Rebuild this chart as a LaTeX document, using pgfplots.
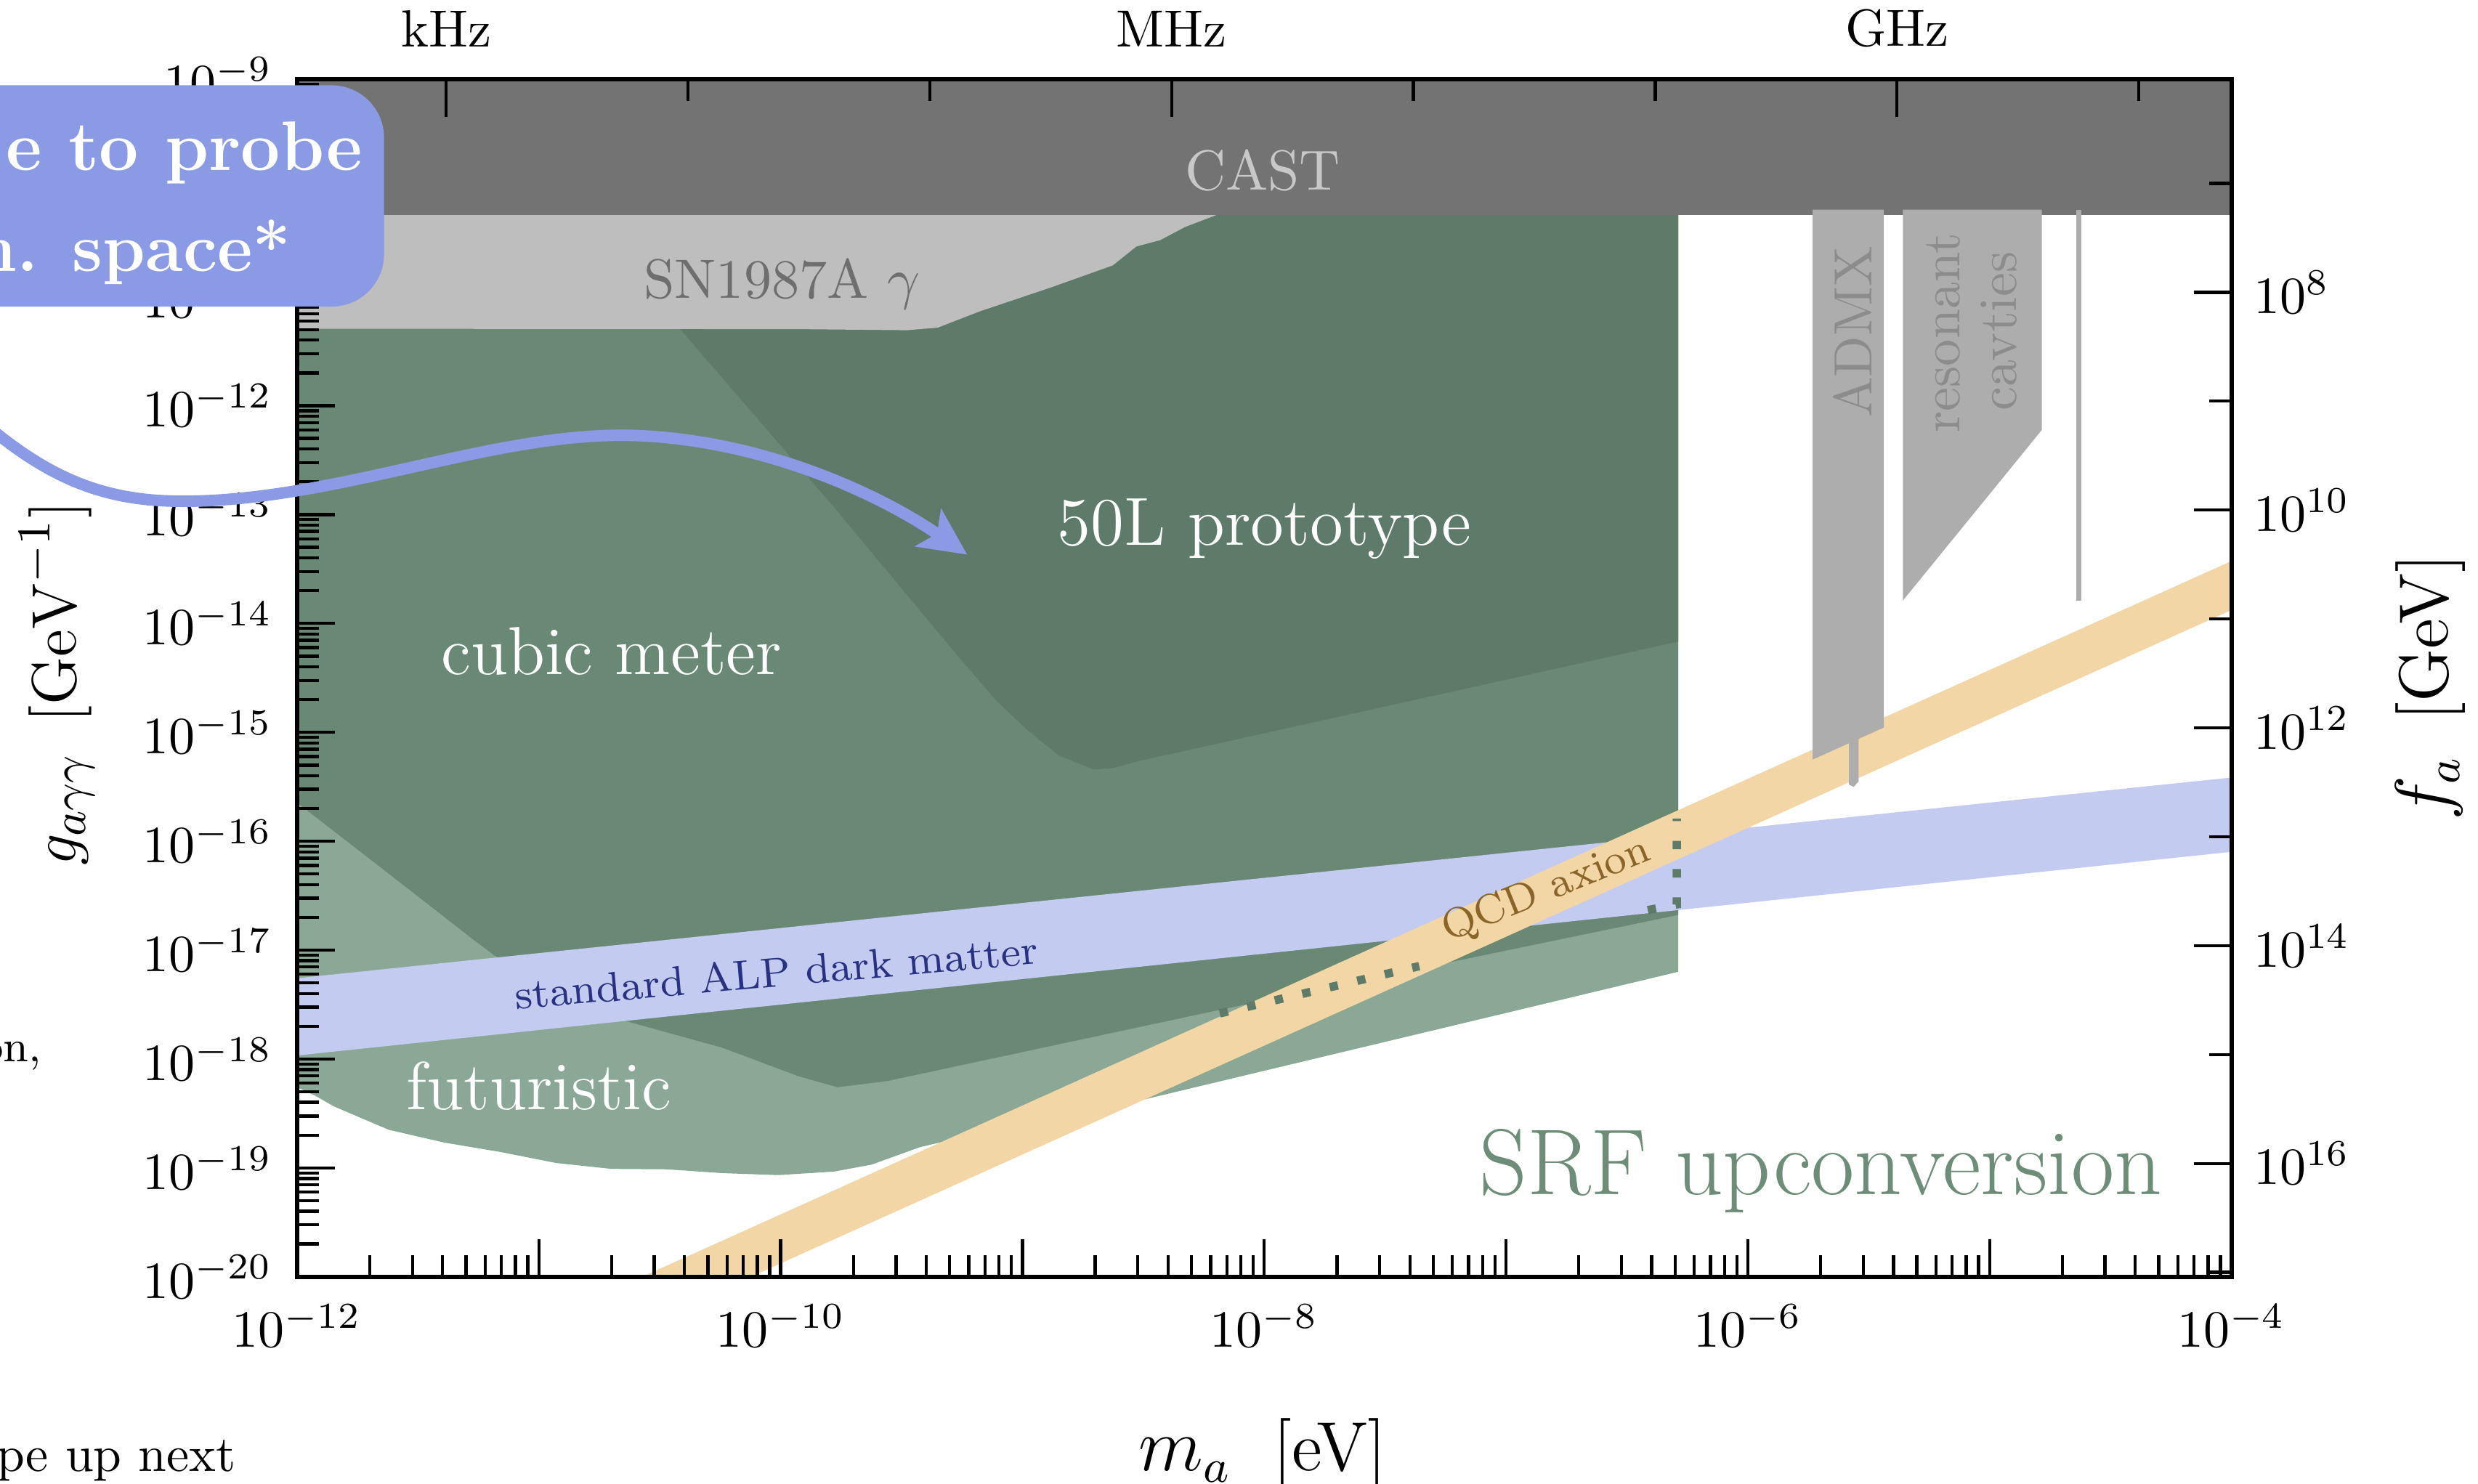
\documentclass[border=0pt]{standalone}
\usepackage{pgfplots}
\pgfplotsset{compat=1.18}
\usetikzlibrary{arrows.meta}
\definecolor{castc}{RGB}{115,115,115}
\definecolor{snc}{RGB}{190,190,190}
\definecolor{sntext}{RGB}{110,110,110}
\definecolor{casttext}{RGB}{200,200,200}
\definecolor{haloc}{RGB}{173,173,173}
\definecolor{admxtext}{RGB}{140,140,140}
\definecolor{fiftyL}{RGB}{94,123,105}
\definecolor{cubic}{RGB}{106,137,117}
\definecolor{futur}{RGB}{138,168,149}
\definecolor{alpband}{RGB}{196,203,240}
\definecolor{alptext}{RGB}{40,50,130}
\definecolor{qcdband}{RGB}{242,214,166}
\definecolor{qcdtext}{RGB}{138,100,40}
\definecolor{arrowblue}{RGB}{138,154,229}
\definecolor{srftext}{RGB}{109,141,120}
\newcommand\axW{369.82pt}
\newcommand\axH{229.02pt}
\begin{document}
\begin{tikzpicture}
% ---------------- data (log10 space) ----------------
\begin{axis}[name=data, at={(0,0)}, anchor=south west, scale only axis,
  width=\axW, height=\axH, xmin=-12, xmax=-4, ymin=-20, ymax=-9, hide axis]
% futuristic
\addplot[draw=none, fill=futur] coordinates {
 (-12.2,-10.2) (-12.2,-18.22) (-12,-18.259) (-11.922,-18.34) (-11.850,-18.433)
 (-11.621,-18.650) (-11.392,-18.767) (-11.159,-18.854) (-10.929,-18.955)
 (-10.700,-19.009) (-10.471,-19.013) (-10.242,-19.048) (-10.010,-19.066)
 (-9.780,-19.034) (-9.624,-18.970) (-9.425,-18.810) (-8.980,-18.578)
 (-8.503,-18.375) (-6.288,-17.199) (-6.288,-10.2)} -- cycle;
% cubic meter
\addplot[draw=none, fill=cubic] coordinates {
 (-12.2,-10.2) (-12.2,-15.30) (-12,-15.646) (-11.595,-16.343) (-11.268,-16.909)
 (-11.163,-17.083) (-10.974,-17.344) (-10.778,-17.533) (-10.630,-17.658)
 (-10.242,-17.896) (-9.928,-18.157) (-9.765,-18.259) (-9.556,-18.201)
 (-8.183,-17.548) (-6.288,-16.677) (-6.288,-10.2)} -- cycle;
% 50L prototype
\addplot[draw=none, fill=fiftyL] coordinates {
 (-10.843,-10.2) (-10.412,-11.307) (-9.775,-12.944) (-9.307,-14.195)
 (-9.111,-14.703) (-8.980,-14.979) (-8.850,-15.211) (-8.706,-15.342)
 (-8.621,-15.327) (-8.529,-15.269) (-6.288,-14.166) (-6.288,-10.2)} -- cycle;
% SN1987A
\addplot[draw=none, fill=snc] coordinates {
 (-12.2,-10.2) (-12.2,-11.293) (-9.924,-11.297) (-9.477,-11.307) (-9.350,-11.283)
 (-9.176,-11.133) (-8.877,-10.910) (-8.627,-10.712) (-8.529,-10.538)
 (-8.431,-10.480) (-8.329,-10.360) (-8.205,-10.255) (-8.16,-10.2)} -- cycle;
% CAST
\addplot[draw=none, fill=castc] coordinates {
 (-12.2,-10.248) (-3.8,-10.248) (-3.8,-8.8) (-12.2,-8.8)} -- cycle;
% standard ALP dark matter band
\addplot[draw=none, fill=alpband] coordinates {
 (-12.1,-17.281) (-3.9,-15.392) (-3.9,-16.074) (-12.1,-17.991)} -- cycle;
% QCD axion band
\addplot[draw=none, fill=qcdband] coordinates {
 (-12,-21.427) (-3.9,-13.327) (-3.9,-13.777) (-12,-21.877)} -- cycle;
% ADMX
\addplot[draw=none, fill=haloc] coordinates {
 (-5.732,-10.2) (-5.732,-15.250) (-5.582,-15.100) (-5.582,-15.48) (-5.562,-15.501)
 (-5.542,-15.45) (-5.542,-15.060) (-5.438,-14.956) (-5.438,-10.2)} -- cycle;
% resonant cavities
\addplot[draw=none, fill=haloc] coordinates {
 (-5.359,-10.2) (-4.784,-10.2) (-4.784,-12.222) (-5.359,-13.790)} -- cycle;
\addplot[haloc, line width=1pt] coordinates {(-4.631,-10.2) (-4.631,-13.79)};
% dotted line
\addplot[fiftyL, line width=1.6pt, dash pattern=on 1.6pt off 3.8pt] coordinates {
 (-8.184,-17.581) (-7.359,-17.147)};
\addplot[fiftyL, line width=1.6pt, dash pattern=on 1.6pt off 3.8pt] coordinates {
 (-6.414,-16.633) (-6.294,-16.580) (-6.294,-15.792)};
\end{axis}
% ---------------- main log axes (bottom / left) ----------------
\begin{axis}[name=ax, at={(0,0)}, anchor=south west, scale only axis,
  width=\axW, height=\axH, xmode=log, ymode=log,
  xmin=1e-12, xmax=1e-4, ymin=1e-20, ymax=1e-9,
  tick pos=left,
  xtick={1e-12,1e-11,1e-10,1e-9,1e-8,1e-7,1e-6,1e-5,1e-4},
  xticklabels={$10^{-12}$,,$10^{-10}$,,$10^{-8}$,,$10^{-6}$,,$10^{-4}$},
  ytick={1e-20,1e-19,1e-18,1e-17,1e-16,1e-15,1e-14,1e-13,1e-12,1e-11,1e-10,1e-9},
  minor xtick={2e-12,3e-12,4e-12,5e-12,6e-12,7e-12,8e-12,9e-12,
   2e-11,3e-11,4e-11,5e-11,6e-11,7e-11,8e-11,9e-11,
   2e-10,3e-10,4e-10,5e-10,6e-10,7e-10,8e-10,9e-10,
   2e-9,3e-9,4e-9,5e-9,6e-9,7e-9,8e-9,9e-9,
   2e-8,3e-8,4e-8,5e-8,6e-8,7e-8,8e-8,9e-8,
   2e-7,3e-7,4e-7,5e-7,6e-7,7e-7,8e-7,9e-7,
   2e-6,3e-6,4e-6,5e-6,6e-6,7e-6,8e-6,9e-6,
   2e-5,3e-5,4e-5,5e-5,6e-5,7e-5,8e-5,9e-5},
  minor ytick={2e-20,3e-20,4e-20,5e-20,6e-20,7e-20,8e-20,9e-20,
   2e-19,3e-19,4e-19,5e-19,6e-19,7e-19,8e-19,9e-19,
   2e-18,3e-18,4e-18,5e-18,6e-18,7e-18,8e-18,9e-18,
   2e-17,3e-17,4e-17,5e-17,6e-17,7e-17,8e-17,9e-17,
   2e-16,3e-16,4e-16,5e-16,6e-16,7e-16,8e-16,9e-16,
   2e-15,3e-15,4e-15,5e-15,6e-15,7e-15,8e-15,9e-15,
   2e-14,3e-14,4e-14,5e-14,6e-14,7e-14,8e-14,9e-14,
   2e-13,3e-13,4e-13,5e-13,6e-13,7e-13,8e-13,9e-13,
   2e-12,3e-12,4e-12,5e-12,6e-12,7e-12,8e-12,9e-12,
   2e-11,3e-11,4e-11,5e-11,6e-11,7e-11,8e-11,9e-11,
   2e-10,3e-10,4e-10,5e-10,6e-10,7e-10,8e-10,9e-10},
  major tick length=7.2pt, minor tick length=4.2pt,
  tick style={black, line width=0.6pt},
  axis line style={line width=0.8pt},
  xticklabel style={yshift=-1.8pt},
  yticklabel style={xshift=-1.2pt}]
\end{axis}
% ---------------- frequency (top) and f_a (right) ----------------
\begin{axis}[at={(0,0)}, anchor=south west, scale only axis,
  width=\axW, height=\axH, xmode=log, ymode=log,
  xmin=241.8, xmax=2.418e10, ymin=1.1e6, ymax=1.1e17, y dir=reverse,
  tick pos=right, xticklabel pos=right, yticklabel pos=right,
  xtick={1e3,1e6,1e9}, xticklabels={kHz,MHz,GHz},
  minor xtick={1e4,1e5,1e7,1e8,1e10},
  ytick={1e8,1e10,1e12,1e14,1e16},
  minor ytick={1e7,1e9,1e11,1e13,1e15,1e17},
  major tick length=7.2pt, minor tick length=4.2pt,
  tick style={black, line width=0.6pt},
  axis line style={line width=0.8pt},
  xticklabel style={yshift=2.6pt},
  yticklabel style={xshift=0.7pt}]
\end{axis}
% ---------------- annotations ----------------
\begin{scope}[shift={(ax.south west)}, x=0.30214pt, y=-0.30214pt]
\begin{scope}[shift={(-188,-808)}]
\node[anchor=base, inner sep=0, text=casttext, font=\fontsize{10.8}{13}\selectfont] at (799,120) {CAST};
\node[anchor=base, inner sep=0, text=sntext, font=\fontsize{10.6}{13}\selectfont] at (494.8,188.8) {SN1987A $\gamma$};
\node[anchor=base, inner sep=0, text=white, font=\fontsize{13}{15}\selectfont] at (800,345) {50L prototype};
\node[anchor=base, inner sep=0, text=white, font=\fontsize{13}{15}\selectfont] at (387,427) {cubic meter};
\node[anchor=base, inner sep=0, text=white, font=\fontsize{13}{15}\selectfont] at (341,702) {futuristic};
\node[anchor=base, inner sep=0, text=srftext, font=\fontsize{17.9}{21}\selectfont] at (1152,756) {SRF upconversion};
\node[anchor=base, inner sep=0, rotate=5, text=alptext, font=\fontsize{8}{10}\selectfont] at (492,624.4) {standard ALP dark matter};
\node[anchor=base, inner sep=0, rotate=22, text=qcdtext, font=\fontsize{8}{10}\selectfont] at (981,570) {QCD axion};
\node[anchor=base, inner sep=0, rotate=90, text=admxtext, font=\fontsize{10.3}{12}\selectfont] at (1184.3,210) {ADMX};
\node[anchor=base, inner sep=0, rotate=90, text=admxtext, font=\fontsize{10.3}{12}\selectfont] at (1240,210.5) {resonant};
\node[anchor=base, inner sep=0, rotate=90, text=admxtext, font=\fontsize{10.3}{12}\selectfont] at (1276,209.5) {cavties};
% axis labels
\node[anchor=base, inner sep=0, font=\fontsize{13.3}{15}\selectfont] at (799,930.7) {$m_a$\hspace{0.6em}[eV]};
\node[anchor=base, inner sep=0, rotate=90, font=\fontsize{13}{15}\selectfont] at (48,432.5) {$g_{a\gamma\gamma}$\hspace{0.45em}$[\mathrm{GeV}^{-1}]$};
\node[anchor=base, inner sep=0, rotate=90, font=\fontsize{13.3}{15}\selectfont] at (1549,435) {$f_a$\hspace{0.5em}[GeV]};
% slide elements cut at the left
\fill[arrowblue, rounded corners=10pt] (-400,54) rectangle (243,194);
\node[anchor=base east, inner sep=0, text=white, font=\fontsize{13.4}{16}\selectfont\bfseries] at (230,108) {e to probe};
\node[anchor=base east, inner sep=0, text=white, font=\fontsize{13.1}{16}\selectfont\bfseries] at (185,171.5) {n. space*};
\draw[arrowblue, line width=2.2pt, -{Stealth[length=9pt, width=8.6pt, inset=2pt]}]
  (-40,240) .. controls (20,300) and (60,318) .. (119.5,317.2)
  .. controls (220,316) and (320,270) .. (410,276)
  .. controls (490,281) and (560,315) .. (612,351);
\node[anchor=base east, inner sep=0, font=\fontsize{8.5}{10}\selectfont] at (27,671.6) {on,};
\node[anchor=base east, inner sep=0, font=\fontsize{9.7}{11}\selectfont] at (150,931) {pe up next};
\pgfresetboundingbox
\path[use as bounding box] (0,0) rectangle (1568,939);
\end{scope}
\end{scope}
\end{tikzpicture}
\end{document}
